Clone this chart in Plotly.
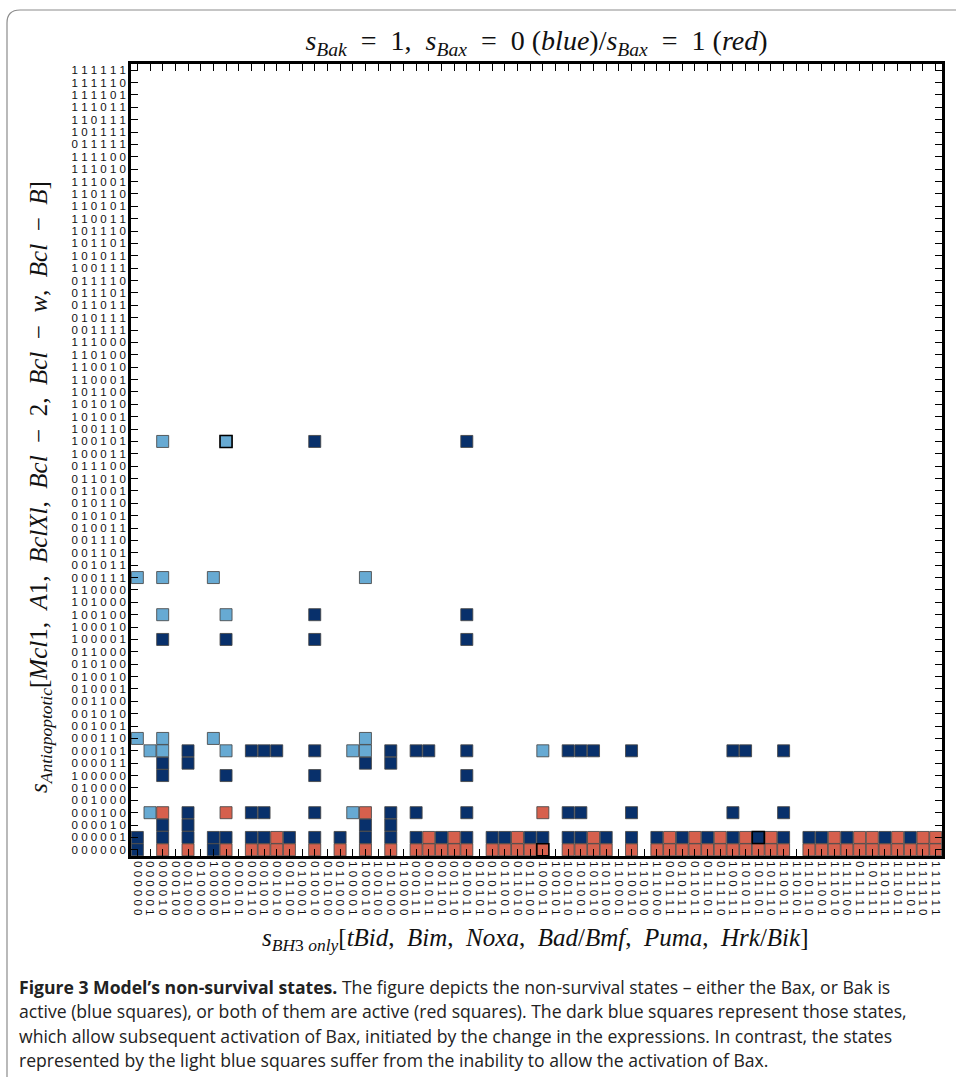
import plotly.graph_objects as go

# state labels (same ordering on both axes): grouped by number of active members
states = ["000000",
          "000001", "000010", "000100", "001000", "010000", "100000",
          "000011", "000101", "000110", "001001", "001010", "001100", "010001", "010010",
          "010100", "011000", "100001", "100010", "100100", "101000", "110000",
          "000111", "001011", "001101", "001110", "010011", "010101", "010110", "011001",
          "011010", "011100", "100011", "100101", "100110", "101001", "101010", "101100",
          "110001", "110010", "110100", "111000",
          "001111", "010111", "011011", "011101", "011110", "100111", "101011", "101101",
          "101110", "110011", "110101", "110110", "111001", "111010", "111100",
          "011111", "101111", "110111", "111011", "111101", "111110",
          "111111"]

# dark blue squares: BH3-only state (x) and antiapoptotic states (y)
dark_bh3 = ["000000", "000010", "001000", "100000", "000011", "000110", "001001", "001010",
            "001100", "010010", "011000", "100010", "101000", "000111", "001011", "001101",
            "010011", "010110", "011001", "011100", "100011", "100110", "101001", "101010",
            "101100", "110010", "111000", "010111", "011101", "100111", "101011", "101101",
            "110011", "110110", "111001", "111100", "110111", "111101"]
dark_anti = [["000001", "000000"],
             ["000011", "100000", "000010", "000001", "100001"],
             ["000101", "000011", "000100", "000010", "000001"],
             ["000001", "000000"],
             ["100000", "000001", "100001"],
             ["000101", "000100", "000001"],
             ["000101", "000100", "000001"],
             ["000101"],
             ["000001"],
             ["100101", "100100", "100001", "000101", "100000", "000100", "000001"],
             ["000001"],
             ["000011", "000010", "000001"],
             ["000101", "000011", "000100", "000010", "000001"],
             ["000101", "000100", "000001"],
             ["000101"],
             ["000001"],
             ["100101", "100100", "100001", "000101", "100000", "000100", "000001"],
             ["000001"],
             ["000001"],
             ["000001"],
             ["000001"],
             ["000101", "000100", "000001"],
             ["000101", "000100", "000001"],
             ["000101"],
             ["000001"],
             ["000101", "000100", "000001"],
             ["000001"],
             ["000001"],
             ["000001"],
             ["000101", "000100", "000001"],
             ["000101"],
             ["000001"],
             ["000101", "000100", "000001"],
             ["000001"],
             ["000001"],
             ["000001"],
             ["000001"],
             ["000001"]]

# light blue squares
light_bh3 = ["000000", "000001", "000010", "100000", "000011", "100001", "100010", "100011"]
light_anti = [["000111", "000110"],
              ["000101", "000100"],
              ["100101", "000111", "100100", "000110", "000101"],
              ["000111", "000110"],
              ["100101", "100100", "000101"],
              ["000101", "000100"],
              ["000111", "000110", "000101"],
              ["000101"]]

# red squares
red_bh3 = ["000010", "001000", "000011", "000110", "001001", "001010", "001100", "010010",
           "011000", "100010", "101000", "000111", "001011", "001101", "001110", "010011",
           "010110", "011001", "011010", "011100", "100011", "100110", "101001", "101010",
           "101100", "110010", "111000", "001111", "010111", "011011", "011101", "011110",
           "100111", "101011", "101101", "101110", "110011", "110110", "111001", "111010",
           "111100", "011111", "101111", "110111", "111011", "111101", "111110", "111111"]
red_anti = [["000100", "000000"], ["000000"], ["000100", "000000"], ["000000"], ["000000"],
            ["000001", "000000"], ["000000"], ["000000"], ["000000"], ["000100", "000000"],
            ["000000"], ["000000"], ["000001", "000000"], ["000000"], ["000001", "000000"],
            ["000000"], ["000000"], ["000000"], ["000001", "000000"], ["000000"],
            ["000100", "000000"], ["000000"], ["000000"], ["000001", "000000"], ["000000"],
            ["000000"], ["000000"], ["000001", "000000"], ["000000"], ["000001", "000000"],
            ["000000"], ["000001", "000000"], ["000000"], ["000001", "000000"], ["000000"],
            ["000001", "000000"], ["000000"], ["000000"], ["000000"], ["000001", "000000"],
            ["000000"], ["000001", "000000"], ["000001", "000000"], ["000000"],
            ["000001", "000000"], ["000000"], ["000001", "000000"], ["000001", "000000"]]

# squares drawn with a black outline
edge_bh3 = ["000011", "100011", "101101"]
edge_anti = ["100101", "000000", "000001"]
edge_kind = ["light", "red", "dark"]

colors = {"dark": "#08306B", "light": "#67AAD3", "red": "#D6604D"}


def flatten(cols, rows):
    xs, ys = [], []
    for c, rr in zip(cols, rows):
        for r in rr:
            xs.append(states.index(c))
            ys.append(states.index(r))
    return xs, ys


fig = go.Figure()
MS = 12.0
for kind, cols, rows in [("dark", dark_bh3, dark_anti), ("light", light_bh3, light_anti),
                         ("red", red_bh3, red_anti)]:
    xs, ys = flatten(cols, rows)
    fig.add_trace(go.Scatter(x=xs, y=ys, mode="markers", showlegend=False, hoverinfo="skip",
                             marker=dict(symbol="square", size=MS, color=colors[kind],
                                         line=dict(color="rgba(70,70,70,0.85)", width=1))))

fig.add_trace(go.Scatter(x=[states.index(s) for s in edge_bh3],
                         y=[states.index(s) for s in edge_anti],
                         mode="markers", showlegend=False, hoverinfo="skip",
                         marker=dict(symbol="square", size=MS,
                                     color=[colors[k] for k in edge_kind],
                                     line=dict(color="#000000", width=1.6))))

ticktext = [" ".join(s) for s in states]
axis_common = dict(range=[-0.5, 63.5], tickmode="array", tickvals=list(range(64)),
                   ticktext=ticktext, ticks="inside", ticklen=7, tickwidth=1.3,
                   tickcolor="#000", showline=True, linecolor="#000", linewidth=2.5,
                   mirror="allticks", showgrid=False, zeroline=False, automargin=False,
                   tickfont=dict(family="Liberation Sans", size=11.5, color="#111"))

fig.update_xaxes(**axis_common, tickangle=90)
fig.update_yaxes(**axis_common)

serif = "Liberation Serif"
EQ = "\u2002=\u2002"
fig.update_layout(
    width=956, height=1077,
    margin=dict(l=131, r=14, t=64, b=221),
    paper_bgcolor="white", plot_bgcolor="white",
    title=dict(text=f"<i>s</i><sub><i>Bak</i></sub>{EQ}1,\u2002<i>s</i><sub><i>Bax</i></sub>{EQ}0\u2005(<i>blue</i>)/"
                    f"<i>s</i><sub><i>Bax</i></sub>{EQ}1\u2005(<i>red</i>)",
               x=0.5, xref="paper", xanchor="center", y=1 - 40 / 1077, yanchor="middle",
               font=dict(family=serif, size=28, color="#111")),
)

SP = "\u2002"
annotations = [
    dict(text=f"<i>s</i><sub><i>Antiapoptotic</i></sub>[<i>Mcl</i>1,{SP}<i>A</i>1,{SP}<i>BclXl</i>,{SP}"
              f"<i>Bcl</i>{SP}−{SP}2,{SP}<i>Bcl</i>{SP}−{SP}<i>w</i>,{SP}<i>Bcl</i>{SP}−{SP}<i>B</i>]",
         x=(40 - 131) / 811, y=(856 - 487) / 792, textangle=-90,
         font=dict(family=serif, size=25, color="#111")),
    dict(text=f"<i>s</i><sub><i>BH</i>3 <i>only</i></sub>[<i>tBid</i>,{SP}<i>Bim</i>,{SP}<i>Noxa</i>,{SP}"
              f"<i>Bad</i>/<i>Bmf</i>,{SP}<i>Puma</i>,{SP}<i>Hrk</i>/<i>Bik</i>]",
         x=(535 - 131) / 811, y=(856 - 940) / 792, font=dict(family=serif, size=25, color="#111")),
]
caption = [
    "<b>Figure 3 Model’s non-survival states.</b> The figure depicts the non-survival states – either the Bax, or Bak is",
    "active (blue squares), or both of them are active (red squares). The dark blue squares represent those states,",
    "which allow subsequent activation of Bax, initiated by the change in the expressions. In contrast, the states",
    "represented by the light blue squares suffer from the inability to allow the activation of Bax.",
]
for i, line in enumerate(caption):
    annotations.append(dict(text=line, x=(17 - 131) / 811, xanchor="left",
                            y=(856 - (987 + 24.3 * i)) / 792, yanchor="middle",
                            font=dict(family="Open Sans", size=17.6, color="#222")))
for a in annotations:
    a.setdefault("xref", "paper")
    a.setdefault("yref", "paper")
    a.setdefault("showarrow", False)
    a.setdefault("xanchor", "center")
    a.setdefault("yanchor", "middle")
fig.update_layout(annotations=annotations)


# rounded frame of the figure panel
def px(x):
    return (x - 131) / 811


def py(y):
    return (856 - y) / 792


r = 13
path = (f"M {px(965)},{py(10)} L {px(7 + r)},{py(10)} "
        f"Q {px(7)},{py(10)} {px(7)},{py(10 + r)} L {px(7)},{py(1090)}")
fig.add_shape(type="path", path=path, xref="paper", yref="paper",
              line=dict(color="#8c8c8c", width=1.2), layer="below")

fig.write_html("out.html", config={"displayModeBar": False},
               post_script="document.body.style.margin='0px';")
